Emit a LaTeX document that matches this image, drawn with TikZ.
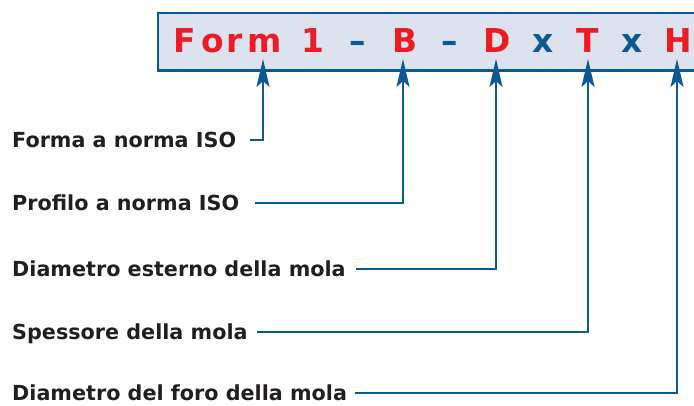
\documentclass[tikz,border=0pt]{standalone}
\usepackage{fontspec}
\setmainfont{DejaVu Sans}
\usetikzlibrary{arrows.meta}
\definecolor{lineblue}{HTML}{0B5A96}
\definecolor{boxfill}{HTML}{DCE2EE}
\definecolor{codered}{HTML}{ED1C24}
\definecolor{labtext}{HTML}{231F20}
\tikzset{
  codechar/.style={anchor=base, inner sep=0pt, font=\fontsize{33}{36}\selectfont\bfseries},
  redchar/.style={codechar, text=codered},
  bluechar/.style={codechar, text=lineblue},
  labelnode/.style={anchor=base west, inner sep=0pt, text=labtext, font=\fontsize{20.8}{24}\selectfont\bfseries},
  leader/.style={draw=lineblue, line width=2.2bp, -{Stealth[length=28bp,width=13bp,inset=6bp]}},
  codebox/.style={draw=lineblue, line width=2.2bp, fill=boxfill}
}
\begin{document}
\begin{tikzpicture}[x=1bp,y=-1bp]
\useasboundingbox (0,0) rectangle (694,405);
\clip (0,0) rectangle (694,405);
\draw[codebox] (158,13) rectangle (710,70.5);
% code characters
\node[redchar]  (cF) at (185,52) {F};
\node[redchar]  (co) at (213,52) {o};
\node[redchar]  (cr) at (235,52) {r};
\node[redchar]  (cm) at (265,52) {m};
\node[redchar]  (c1) at (313,52) {1};
\node[bluechar] (d1) at (358,52) {–};
\node[redchar]  (cB) at (405,52) {B};
\node[bluechar] (d2) at (450,52) {–};
\node[redchar]  (cD) at (497,52) {D};
\node[bluechar] (x1) at (543,52) {x};
\node[redchar]  (cT) at (588,52) {T};
\node[bluechar] (x2) at (632,52) {x};
\node[redchar]  (cH) at (678,52) {H};
% arrow tips
\coordinate (tF) at (263,59);
\coordinate (tB) at (403,59);
\coordinate (tD) at (496,59);
\coordinate (tT) at (588,59);
\coordinate (tH) at (677,59);
% labels
\node[labelnode] (l1) at (12,147) {Forma a norma ISO};
\node[labelnode] (l2) at (12,210) {Profilo a norma ISO};
\node[labelnode] (l3) at (12,276) {Diametro esterno della mola};
\node[labelnode] (l4) at (12,339) {Spessore della mola};
\node[labelnode] (l5) at (12,400) {Diametro del foro della mola};
% leader starts
\coordinate (s1) at (250,140);
\coordinate (s2) at (255,203);
\coordinate (s3) at (356,269);
\coordinate (s4) at (257,332);
\coordinate (s5) at (355,393);
\draw[leader] (s1) -| (tF);
\draw[leader] (s2) -| (tB);
\draw[leader] (s3) -| (tD);
\draw[leader] (s4) -| (tT);
\draw[leader] (s5) -| (tH);
\end{tikzpicture}
\end{document}
